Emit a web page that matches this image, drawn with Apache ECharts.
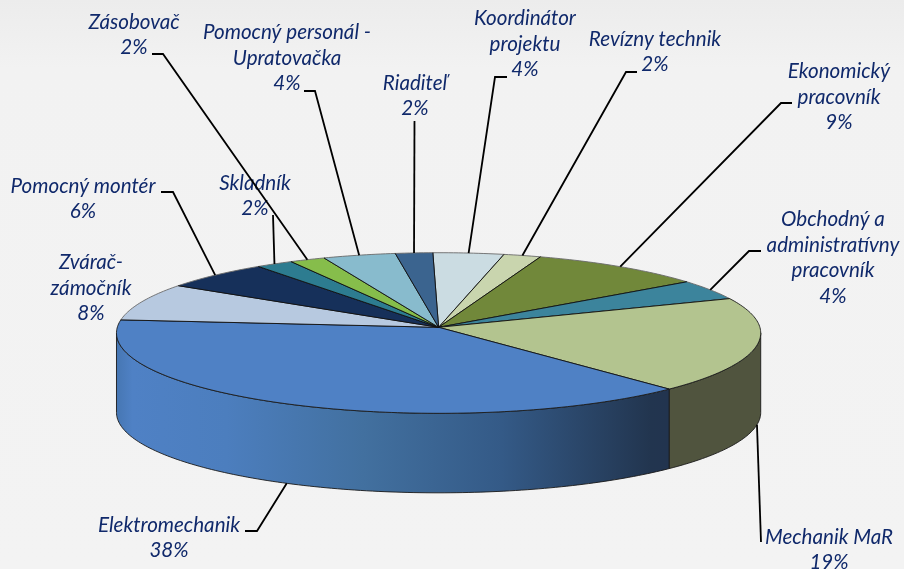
<!DOCTYPE html>
<html>
<head>
  <meta charset="UTF-8">
  <title>Pie 3D</title>
  <script src="https://cdn.jsdelivr.net/npm/echarts@6/dist/echarts.min.js"></script>
  <style>
    html, body { margin: 0; padding: 0; background: #f2f2f2; }
    #chart { width: 904px; height: 569px; }
  </style>
</head>
<body>
  <div id="chart"></div>
  <script>
    // clockwise from the top of the pie
    var categories = ['Koordinátor\nprojektu', 'Revízny technik', 'Ekonomický\npracovník', 'Obchodný a\nadministratívny\npracovník',
      'Mechanik MaR', 'Elektromechanik', 'Zvárač-\nzámočník', 'Pomocný montér', 'Skladník', 'Zásobovač',
      'Pomocný personál -\nUpratovačka', 'Riaditeľ'];
    // the labels show these rounded to whole percents
    var shares = [3.8, 2.0, 9.4, 4.1, 19.1, 38.4, 7.6, 5.8, 2.0, 1.9, 3.9, 2.0];

    var colors = ['#cbdce2', '#c9d5ae', '#71883a', '#3c849c', '#b3c48f', '#4f81c5', '#b7c9e0', '#16305a', '#2d7c90', '#86bd4b', '#88bbcd', '#3b648f'];

    // label centre, and the leader's points on the label side (none for Zvárač)
    var labelPos = [[525, 44], [655, 52], [839, 97], [833, 258], [829, 550], [169, 538], [91, 288], [83, 199], [255, 196], [134, 35], [287, 58], [415, 96]];
    var elbows = [
      [[507, 77], [495, 77]],
      [[637, 72], [626, 72]],
      [[792, 103], [781, 103]],
      [[761, 251], [749, 251]],
      [[761, 542]],
      [[245, 531], [257, 531]],
      null,
      [[161, 192], [173, 192]],
      [[273, 215]],
      [[152, 54], [163, 54]],
      [[304, 91], [315, 91]],
      [[414.5, 121]]
    ];

    // pie seen in perspective: the hub sits above the middle of the ellipse
    var hubX = 438.6, hubY = 327.3, persp = -0.0711, scaleY = 79.9, scaleX = 321.3;
    var depth = 79.5;
    var firstAngle = -1.1;

    function project(deg) {
      var r = deg * Math.PI / 180;
      var u = Math.sin(r), v = -Math.cos(r), w = 1 + persp * v;
      return [hubX + scaleX * u / w, hubY + scaleY * v / w];
    }
    function arc(from, to) {
      var pts = [], n = Math.max(2, Math.ceil(Math.abs(to - from)));
      for (var i = 0; i <= n; i++) pts.push(project(from + (to - from) * i / n));
      return pts;
    }

    var total = shares.reduce(function (a, b) { return a + b; }, 0);
    var starts = [], acc = firstAngle;
    shares.forEach(function (s) { starts.push(acc); acc += s / total * 360; });

    // angles of the two silhouette points, the wall only shows between them
    var wallFrom = 94, wallTo = 266;
    var wallFills = {
      4: '#50543e',
      5: new echarts.graphic.LinearGradient(116, 0, 667, 0, [
        { offset: 0, color: '#4676b2' },
        { offset: 0.03, color: '#4f81c5' },
        { offset: 0.2, color: '#4c7ebe' },
        { offset: 0.45, color: '#42709f' },
        { offset: 0.7, color: '#345a87' },
        { offset: 0.97, color: '#22354f' },
        { offset: 1, color: '#22344f' }
      ], true)
    };

    function renderSlice(params, api) {
      var i = params.dataIndex;
      var start = api.value(1), end = start + api.value(0) / total * 360;
      var mid = (start + end) / 2;
      var front = mid > wallFrom && mid < wallTo;
      var children = [];

      var a = Math.max(start, wallFrom), b = Math.min(end, wallTo);
      if (b > a) {
        var top = arc(a, b);
        var bottom = top.map(function (p) { return [p[0], p[1] + depth]; }).reverse();
        children.push({
          type: 'polygon',
          shape: { points: top.concat(bottom) },
          style: { fill: wallFills[i], stroke: '#1a1a1a', lineWidth: 0.9 }
        });
      }

      var rim = arc(start, end);
      var hub = [hubX, hubY];
      children.push({
        type: 'polygon',
        shape: { points: [hub].concat(rim) },
        style: { fill: colors[i] }
      });
      children.push({
        type: 'polyline',
        shape: { points: rim },
        style: { fill: 'none', stroke: front ? '#1c1c1c' : '#6a6a6a', lineWidth: 0.9 }
      });
      children.push({
        type: 'polyline',
        shape: { points: [rim[0], hub, rim[rim.length - 1]] },
        style: { fill: 'none', stroke: '#111', lineWidth: 0.9 }
      });

      if (elbows[i]) {
        var edge = project(mid);
        if (front) edge = [edge[0], edge[1] + depth];
        children.push({
          type: 'polyline',
          shape: { points: elbows[i].concat([edge]) },
          style: { fill: 'none', stroke: '#000', lineWidth: 1.8 }
        });
      }

      children.push({
        type: 'text',
        style: {
          text: categories[i] + '\n' + Math.round(api.value(0)) + '%',
          x: labelPos[i][0],
          y: labelPos[i][1],
          align: 'center',
          verticalAlign: 'middle',
          fontFamily: 'Lato',
          fontStyle: 'italic',
          fontSize: 20.6,
          lineHeight: 25.5,
          fill: '#10296b'
        }
      });
      return { type: 'group', children: children };
    }

    var myChart = echarts.init(document.getElementById('chart'));
    myChart.setOption({
      animation: false,
      backgroundColor: new echarts.graphic.LinearGradient(0, 0, 0, 1, [
        { offset: 0, color: '#ececec' },
        { offset: 0.12, color: '#f2f2f2' },
        { offset: 1, color: '#f3f3f3' }
      ]),
      series: [{
        type: 'custom',
        coordinateSystem: 'none',
        renderItem: renderSlice,
        data: shares.map(function (s, i) { return [s, starts[i]]; })
      }]
    });
  </script>
</body>
</html>
